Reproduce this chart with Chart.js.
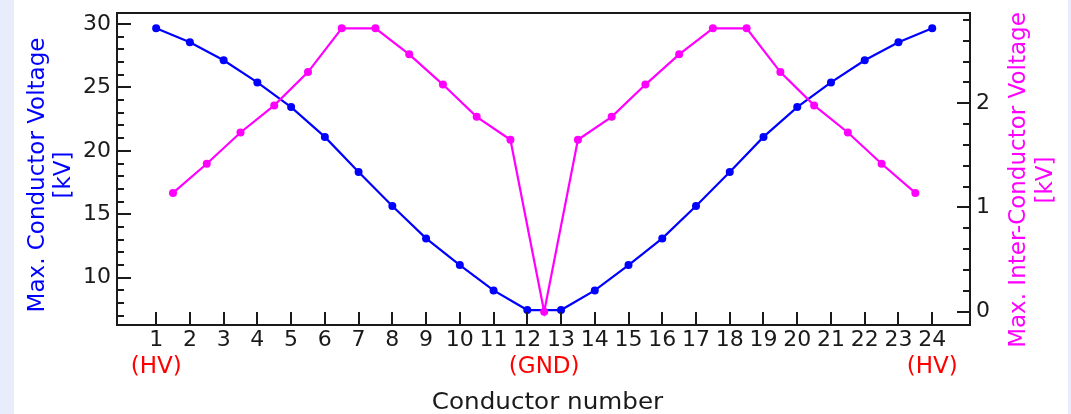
<!DOCTYPE html>
<html>
<head>
<meta charset="utf-8">
<script src="https://cdn.jsdelivr.net/npm/chart.js@4.4.1/dist/chart.umd.min.js"></script>
<style>
  html, body { margin: 0; padding: 0; }
  body {
    width: 1071px; height: 414px; overflow: hidden;
    background: linear-gradient(to right, #e9edfb 0, #e9edfb 14px, #fff 14px, #fff 1068px, #e9edfb 1068px);
  }
</style>
</head>
<body>
<canvas id="chart" width="1071" height="414"></canvas>
<script>
// conductor voltages (kV) at each conductor
const conductorNumbers = [1, 2, 3, 4, 5, 6, 7, 8, 9, 10, 11, 12, 13, 14, 15, 16, 17, 18, 19, 20, 21, 22, 23, 24];
const conductorVoltage = [29.66, 28.56, 27.14, 25.4, 23.45, 21.1, 18.33, 15.65, 13.1, 11.0, 9.0, 7.45,
  7.45, 9.0, 11.0, 13.1, 15.65, 18.33, 21.1, 23.45, 25.4, 27.14, 28.56, 29.66];

// inter-conductor voltages (kV), plotted between neighbours
const gapPositions = [1.5, 2.5, 3.5, 4.5, 5.5, 6.5, 7.5, 8.5, 9.5, 10.5, 11.5, 12.5,
  13.5, 14.5, 15.5, 16.5, 17.5, 18.5, 19.5, 20.5, 21.5, 22.5, 23.5];
const interVoltage = [1.14, 1.42, 1.72, 1.98, 2.30, 2.72, 2.72, 2.47, 2.18, 1.87, 1.65, 0,
  1.65, 1.87, 2.18, 2.47, 2.72, 2.72, 2.30, 1.98, 1.72, 1.42, 1.14];

const xTicks = conductorNumbers;
const leftTicks = [10, 15, 20, 25, 30];
const rightTicks = [0, 1, 2];
const markerPositions = [1, 12.5, 24];
const markerLabels = ['(HV)', '(GND)', '(HV)'];

const FONT = '"DejaVu Sans", sans-serif';
const INK = '#1a1a1a';

const decorations = {
  id: 'decorations',
  afterDatasetsDraw(chart) {
    const { ctx, chartArea: a, scales } = chart;
    ctx.save();
    ctx.strokeStyle = INK;
    ctx.lineWidth = 2;

    const tick = (x1, y1, x2, y2) => {
      ctx.beginPath(); ctx.moveTo(x1, y1); ctx.lineTo(x2, y2); ctx.stroke();
    };

    // x ticks, pointing inward
    xTicks.forEach(v => {
      const px = Math.round(scales.x.getPixelForValue(v));
      tick(px, a.bottom, px, a.bottom - 13);
    });

    // left axis, major + minor
    for (let v = 7; v <= 30; v++) {
      const py = Math.round(scales.y.getPixelForValue(v));
      const len = leftTicks.includes(v) ? 14 : 7;
      tick(a.left, py, a.left + len, py);
    }

    // right axis, major + minor
    for (let i = 0; i <= 14; i++) {
      const v = i / 5;
      const py = Math.round(scales.y2.getPixelForValue(v));
      const len = i % 5 === 0 ? 13 : 7;
      tick(a.right, py, a.right - len, py);
    }

    ctx.strokeRect(a.left, a.top, a.right - a.left, a.bottom - a.top);

    // red end labels
    ctx.fillStyle = '#ff0000';
    ctx.font = `23px ${FONT}`;
    ctx.textAlign = 'center';
    ctx.textBaseline = 'alphabetic';
    markerPositions.forEach((v, i) => {
      ctx.fillText(markerLabels[i], scales.x.getPixelForValue(v), 373);
    });

    // x title, a bit wider like the source figure
    ctx.save();
    ctx.fillStyle = INK;
    ctx.translate((a.left + a.right) / 2 + 4, 409);
    ctx.scale(1.07, 1);
    ctx.fillText('Conductor number', 0, 0);
    ctx.restore();

    // left title
    ctx.save();
    ctx.fillStyle = '#0000ff';
    ctx.translate(44, 175);
    ctx.rotate(-Math.PI / 2);
    ctx.fillText('Max. Conductor Voltage', 0, 0);
    ctx.fillText('[kV]', 0, 26);
    ctx.restore();

    // right title
    ctx.save();
    ctx.fillStyle = '#ff00ff';
    ctx.translate(1025, 180);
    ctx.rotate(-Math.PI / 2);
    ctx.fillText('Max. Inter-Conductor Voltage', 0, 0);
    ctx.fillText('[kV]', 0, 27);
    ctx.restore();

    ctx.restore();
  }
};

const tickFont = { family: FONT, size: 22 };
const noGrid = { display: false, drawTicks: false, tickLength: 0 };

// fixed axis sizes so the plot area lands where the source has it
const fixY = w => s => { s.width = w; s.paddingTop = 0; s.paddingBottom = 0; };

new Chart(document.getElementById('chart'), {
  type: 'line',
  data: {
    datasets: [
      {
        label: 'Max. Inter-Conductor Voltage',
        data: gapPositions.map((x, i) => ({ x, y: interVoltage[i] })),
        yAxisID: 'y2',
        borderColor: '#ff00ff',
        backgroundColor: '#ff00ff',
        borderWidth: 2.2,
        pointRadius: 4,
        pointBorderWidth: 0
      },
      {
        label: 'Max. Conductor Voltage',
        data: conductorNumbers.map((x, i) => ({ x, y: conductorVoltage[i] })),
        yAxisID: 'y',
        borderColor: '#0000ff',
        backgroundColor: '#0000ff',
        borderWidth: 2.2,
        pointRadius: 4,
        pointBorderWidth: 0
      }
    ]
  },
  options: {
    responsive: false,
    devicePixelRatio: 1,
    animation: false,
    layout: { padding: { top: 13, left: 0, right: 0, bottom: 0 } },
    plugins: { legend: { display: false }, tooltip: { enabled: false } },
    scales: {
      x: {
        type: 'linear',
        min: -0.16,
        max: 25.12,
        afterBuildTicks: s => { s.ticks = xTicks.map(value => ({ value })); },
        afterFit: s => { s.height = 89; s.paddingLeft = 0; s.paddingRight = 0; },
        ticks: { autoSkip: false, maxRotation: 0, font: tickFont, color: INK, padding: 2 },
        grid: noGrid,
        border: { display: false }
      },
      y: {
        position: 'left',
        min: 6.27,
        max: 30.87,
        afterBuildTicks: s => { s.ticks = leftTicks.map(value => ({ value })); },
        afterFit: fixY(117),
        ticks: { font: tickFont, color: INK, padding: 6 },
        grid: noGrid,
        border: { display: false }
      },
      y2: {
        position: 'right',
        min: -0.128,
        max: 2.867,
        afterBuildTicks: s => { s.ticks = rightTicks.map(value => ({ value })); },
        afterFit: fixY(101),
        ticks: { font: tickFont, color: INK, padding: 6 },
        grid: noGrid,
        border: { display: false }
      }
    }
  },
  plugins: [decorations]
});
</script>
</body>
</html>
